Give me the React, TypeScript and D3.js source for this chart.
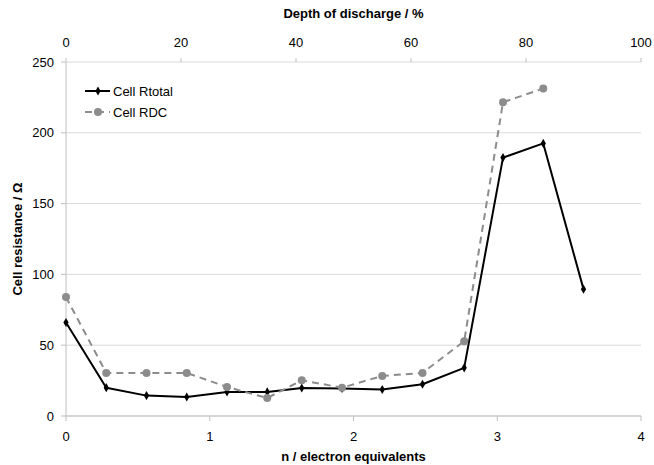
import React from "react";
import * as d3 from "d3";

// n / electron equivalents for each measurement
const nValues = [0, 0.28, 0.56, 0.84, 1.12, 1.4, 1.64, 1.92, 2.2, 2.48, 2.77, 3.04, 3.32, 3.6];
const rTotal = [66, 20, 14.4, 13.4, 17, 17, 19.8, 19.4, 18.7, 22.4, 34, 182.5, 192.5, 89.6];
const rDC = [84, 30.4, 30.4, 30.4, 20.5, 12.7, 25.2, 20, 28.3, 30.4, 52.8, 221.6, 231.3];

const yTicks = [0, 50, 100, 150, 200, 250];
const xTicks = [0, 1, 2, 3, 4];
const dodTicks = [0, 20, 40, 60, 80, 100];

const W = 654;
const H = 465;
const margin = { top: 62, right: 13, bottom: 49, left: 66 };
const font = "'Liberation Sans', Arial, sans-serif";

export default function App() {
  const x = d3.scaleLinear().domain([0, 4]).range([margin.left, W - margin.right]);
  const xTop = d3.scaleLinear().domain([0, 100]).range([margin.left, W - margin.right]);
  const y = d3.scaleLinear().domain([0, 250]).range([H - margin.bottom, margin.top]);

  const line = d3
    .line<number>()
    .x((_d, i) => x(nValues[i]))
    .y((d) => y(d));

  const diamond = d3.symbol().type(d3.symbolDiamond).size(24)();

  const x0 = x(0);
  const x1 = x(4);
  const y0 = y(0);
  const yTop = y(250);
  const midX = (x0 + x1) / 2;

  return (
    <svg
      width={W}
      height={H}
      style={{ position: "absolute", left: 0, top: 0, background: "#fff" }}
      fontFamily={font}
    >
      {/* gridlines */}
      {yTicks.map((t) => (
        <line key={"g" + t} x1={x0} x2={x1} y1={y(t)} y2={y(t)} stroke="#d9d9d9" strokeWidth={1} />
      ))}

      {/* axes */}
      <line x1={x0} x2={x0} y1={yTop} y2={y0} stroke="#bfbfbf" />
      <line x1={x0} x2={x1} y1={y0} y2={y0} stroke="#bfbfbf" />
      {yTicks.map((t) => (
        <g key={"y" + t}>
          <line x1={x0 - 5} x2={x0} y1={y(t)} y2={y(t)} stroke="#bfbfbf" />
          <text x={x0 - 12} y={y(t)} dy="0.35em" textAnchor="end" fontSize={13} fill="#000">
            {t}
          </text>
        </g>
      ))}
      {xTicks.map((t) => (
        <g key={"x" + t}>
          <line x1={x(t)} x2={x(t)} y1={y0} y2={y0 + 5} stroke="#bfbfbf" />
          <text x={x(t)} y={y0 + 20} dy="0.35em" textAnchor="middle" fontSize={13} fill="#000">
            {t}
          </text>
        </g>
      ))}
      {dodTicks.map((t) => (
        <g key={"d" + t}>
          <line x1={xTop(t)} x2={xTop(t)} y1={yTop - 4} y2={yTop} stroke="#bfbfbf" />
          <text x={xTop(t)} y={yTop - 20} dy="0.35em" textAnchor="middle" fontSize={13} fill="#000">
            {t}
          </text>
        </g>
      ))}

      {/* axis titles */}
      <text x={midX} y={13} dy="0.35em" textAnchor="middle" fontSize={13} fontWeight="bold">
        Depth of discharge / %
      </text>
      <text x={midX} y={456} dy="0.35em" textAnchor="middle" fontSize={13} fontWeight="bold">
        n / electron equivalents
      </text>
      <text
        transform={`translate(17, ${(yTop + y0) / 2}) rotate(-90)`}
        dy="0.35em"
        textAnchor="middle"
        fontSize={13}
        fontWeight="bold"
      >
        Cell resistance / Ω
      </text>

      {/* series */}
      <path d={line(rTotal) ?? ""} fill="none" stroke="#000" strokeWidth={2} strokeLinejoin="round" />
      {rTotal.map((v, i) => (
        <path key={"rt" + i} d={diamond ?? ""} transform={`translate(${x(nValues[i])},${y(v)})`} fill="#000" />
      ))}
      <path
        d={line(rDC) ?? ""}
        fill="none"
        stroke="#8c8c8c"
        strokeWidth={2}
        strokeDasharray="7,5"
      />
      {rDC.map((v, i) => (
        <circle key={"dc" + i} cx={x(nValues[i])} cy={y(v)} r={4} fill="#8c8c8c" />
      ))}

      {/* legend */}
      <g>
        <line x1={85} x2={110} y1={91} y2={91} stroke="#000" strokeWidth={2} />
        <path d={diamond ?? ""} transform="translate(98,91)" fill="#000" />
        <text x={113} y={91} dy="0.35em" fontSize={13}>
          Cell Rtotal
        </text>
        <line x1={85} x2={110} y1={112} y2={112} stroke="#8c8c8c" strokeWidth={2} strokeDasharray="7,5" />
        <circle cx={98} cy={112} r={4} fill="#8c8c8c" />
        <text x={113} y={112} dy="0.35em" fontSize={13}>
          Cell RDC
        </text>
      </g>
    </svg>
  );
}
